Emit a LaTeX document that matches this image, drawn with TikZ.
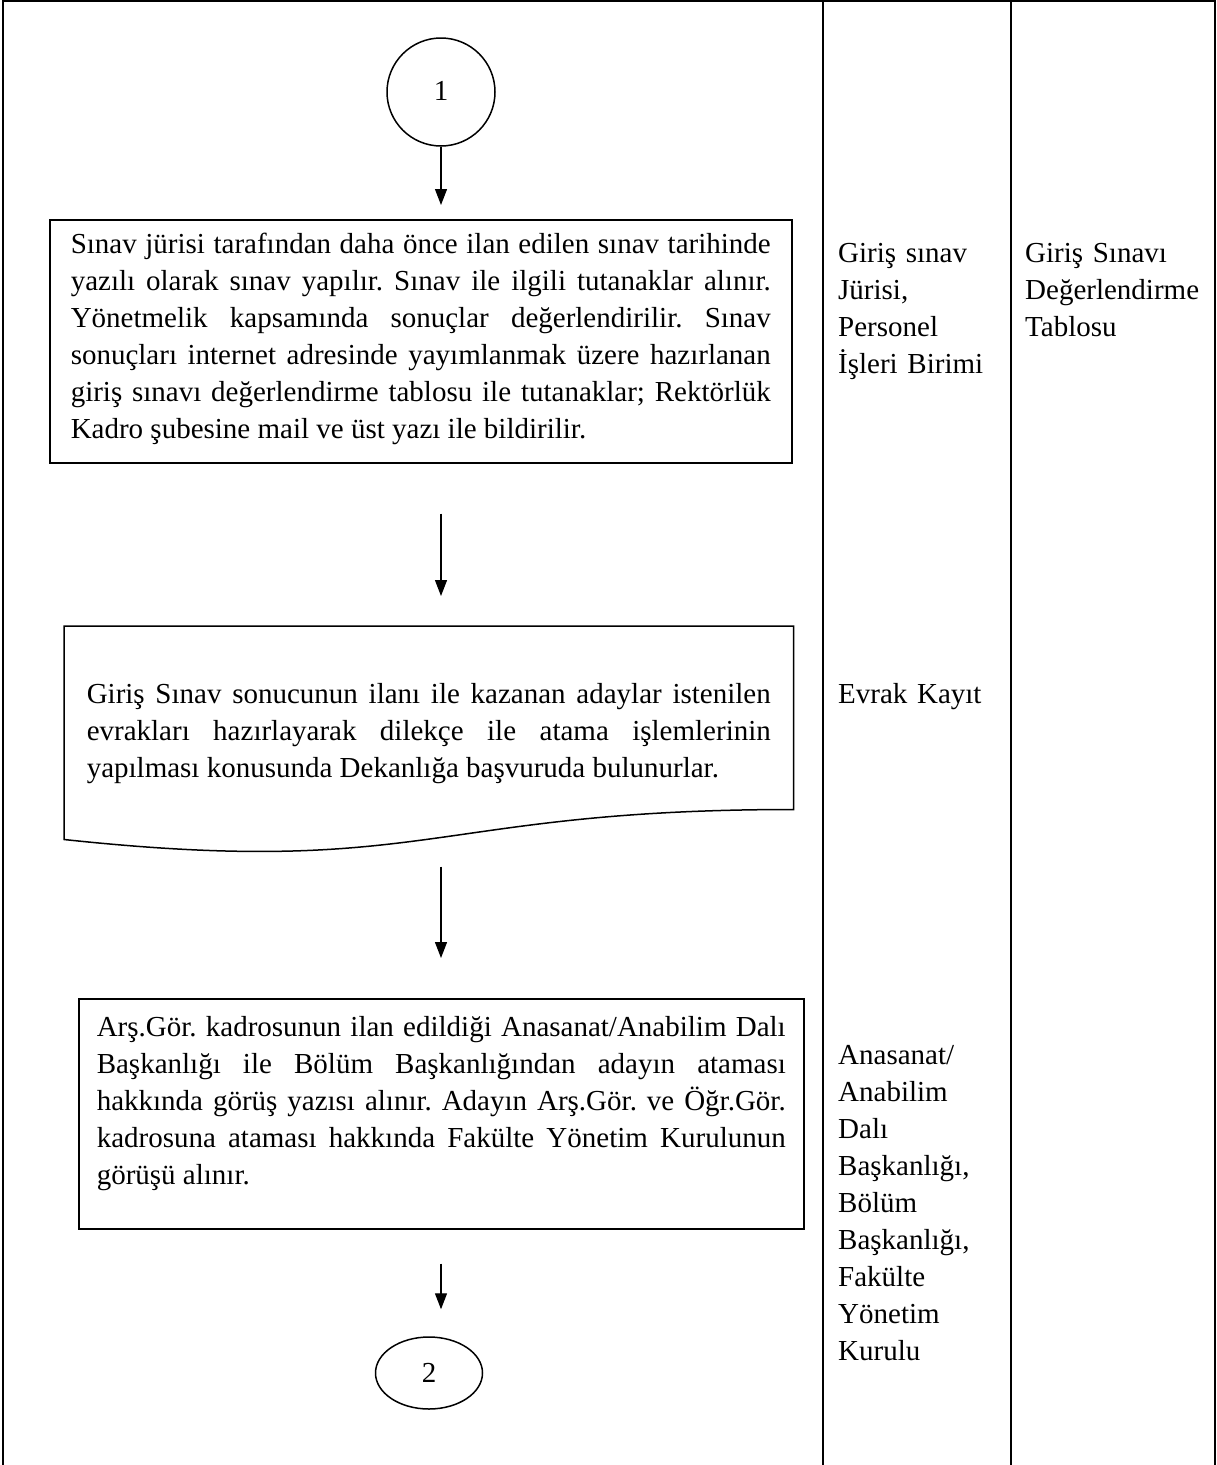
\documentclass[tikz,border=0pt]{standalone}
\usepackage{fontspec}
\setmainfont{Liberation Serif}
\usetikzlibrary{arrows.meta}
\usetikzlibrary{shapes.geometric}
\usetikzlibrary{calc}
\frenchspacing
\tikzset{frame/.style = {line width = 2pt}}
\tikzset{conn/.style = {draw, circle, line width = 1.5pt, minimum size = 108pt, inner sep = 0}}
\tikzset{procbox/.style = {draw, line width = 1.5pt, anchor = north west, align = justify}}
\tikzset{lbl/.style = {anchor = base west, inner sep = 0, text width = 180pt, align = left}}
\tikzset{flow/.style = {line width = 1.3pt, -{Triangle[length = 16pt, width = 12pt]}}}

\begin{document}
\begin{tikzpicture}[x = 1pt, y = -1pt, font = \fontsize{29}{37}\selectfont]
          \useasboundingbox (0, 0) rectangle (1217, 1465);

          % table
          \draw [frame] (3, 1465) -- (3, 1) -- (1215, 1) -- (1215, 1465);
          \draw [frame] (823, 1) -- (823, 1465);
          \draw [frame] (1011, 1) -- (1011, 1465);

          \node [conn, text height = 26pt, text depth = 10pt] (c1) at (441, 92) {1};
          \node [procbox, inner xsep = 21pt, inner ysep = 8pt, text width = 700pt, text height = 26pt, text depth = 201pt] (s1) at (49, 219) {Sınav jürisi tarafından daha önce ilan edilen sınav tarihinde\linebreak yazılı olarak sınav yapılır. Sınav ile ilgili tutanaklar alınır.\linebreak Yönetmelik kapsamında sonuçlar değerlendirilir. Sınav\linebreak sonuçları internet adresinde yayımlanmak üzere hazırlanan\linebreak giriş sınavı değerlendirme tablosu ile tutanaklar; Rektörlük\linebreak Kadro şubesine mail ve üst yazı ile bildirilir.};

          \node [procbox, draw = none, inner xsep = 22pt, inner ysep = 8pt, text width = 684pt, text height = 69pt, text depth = 97pt] (doc) at (64, 626) {Giriş Sınav sonucunun ilanı ile kazanan adaylar istenilen\linebreak evrakları hazırlayarak dilekçe ile atama işlemlerinin\linebreak yapılması konusunda Dekanlığa başvuruda bulunurlar.};
          \draw [line width = 1.5pt] (doc.north west) -- (doc.north east) -- (doc.south east)
            .. controls (doc.south) and ($(doc.south) + (0, 69)$) .. ($(doc.south west) + (0, 30)$) -- cycle;

          \node [procbox, inner xsep = 18pt, inner ysep = 8pt, text width = 689pt, text height = 30pt, text depth = 184pt] (s3) at (78, 998) {Arş.Gör. kadrosunun ilan edildiği Anasanat/Anabilim Dalı\linebreak Başkanlığı ile Bölüm Başkanlığından adayın ataması\linebreak hakkında görüş yazısı alınır. Adayın Arş.Gör. ve Öğr.Gör.\linebreak kadrosuna ataması hakkında Fakülte Yönetim Kurulunun\linebreak görüşü alınır.};

          \node [draw, ellipse, line width = 1.5pt, minimum width = 107pt, minimum height = 72pt, inner sep = 0] (c2) at (429, 1373) {2};

          \draw [flow, shorten >= 14pt] (c1.south) -- (c1.south |- s1.north);
          \draw [flow, shorten <= 50pt, shorten >= 30pt] (s1.south -| c1) -- (doc.north -| c1);
          \draw [flow, shorten <= 57pt, shorten >= 40pt] (doc.south -| c1) -- (s3.north -| c1);
          \draw [flow, shorten <= 34pt, shorten >= 27pt] (s3.south -| c1) -- (c2.north -| c1);

          \node [lbl] (who1) at (838, 262) {Giriş sınav\\Jürisi,\\Personel\\İşleri Birimi};
          \node [lbl] (doc1) at (1025, 262) {Giriş Sınavı\\Değerlendirme\\Tablosu};
          \node [lbl] (who2) at (838, 703) {Evrak Kayıt};
          \node [lbl] (who3) at (838, 1064) {Anasanat/\\Anabilim\\Dalı\\Başkanlığı,\\Bölüm\\Başkanlığı,\\Fakülte\\Yönetim\\Kurulu};
        \end{tikzpicture}
\end{document}
